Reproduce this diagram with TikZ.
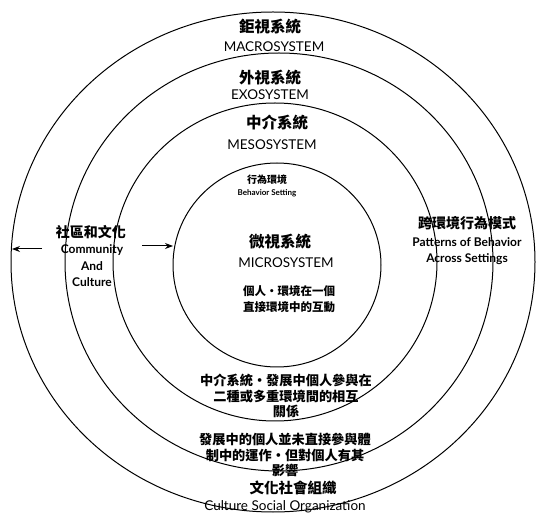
\documentclass[tikz,border=0pt]{standalone}
\usepackage{fontspec}
\setmainfont{Lato}
\newfontfamily\cjk{Noto Sans CJK TC}
\usetikzlibrary{arrows.meta}
\begin{document}
\begin{tikzpicture}[x=1pt,y=-1pt,
  ring/.style={draw=black,line width=1pt},
  cjktitle/.style={font=\cjk\bfseries\fontsize{15.5}{17}\selectfont,inner sep=0pt},
  entitle/.style={font=\fontsize{13.5}{15}\selectfont,inner sep=0pt},
  cjkbody/.style={font=\cjk\bfseries\fontsize{11.5}{15.5}\selectfont,inner sep=0pt,align=center},
  cjkwide/.style={font=\cjk\bfseries\fontsize{13.2}{15.5}\selectfont,inner sep=0pt,align=center},
  cjksmall/.style={font=\cjk\bfseries\fontsize{10}{12}\selectfont,inner sep=0pt},
  ensmall/.style={font=\bfseries\fontsize{8}{10}\selectfont,inner sep=0pt},
  enside/.style={font=\bfseries\fontsize{12}{16.5}\selectfont,inner sep=0pt,align=center},
  cjkside/.style={font=\cjk\bfseries\fontsize{14}{16}\selectfont,inner sep=0pt},
  arr/.style={-{Stealth[length=8pt,width=6pt]},line width=1pt}]
\useasboundingbox (0,0) rectangle (536,521);
\fill[white] (0,0) rectangle (536,521);
% rings
\draw[ring] (273,262) ellipse [x radius=262, y radius=250];
\draw[ring] (279,262) ellipse [x radius=214, y radius=209];
\draw[ring] (275,262) ellipse [x radius=162, y radius=159];
\draw[ring] (277,265) ellipse [x radius=104, y radius=102];
% macro
\node[cjktitle] (macroC) at (270,27) {鉅視系統};
\node[entitle] (macroE) at (274,47) {MACROSYSTEM};
% exo
\node[cjktitle] (exoC) at (270,78) {外視系統};
\node[entitle] (exoE) at (270,95) {EXOSYSTEM};
% meso
\node[cjktitle] (mesoC) at (277,123) {中介系統};
\node[entitle] (mesoE) at (272,145) {MESOSYSTEM};
% behavior setting
\node[cjksmall] (bsC) at (267,180) {行為環境};
\node[ensmall] (bsE) at (267,193) {Behavior Setting};
% micro
\node[cjktitle] (microC) at (280,242) {微視系統};
\node[entitle] (microE) at (286,263) {MICROSYSTEM};
\node[cjkbody] (microD) at (289,299) {個人・環境在一個\\直接環境中的互動};
% meso description
\node[cjkwide] (mesoD) at (286,396) {中介系統・發展中個人參與在\\二種或多重環境間的相互\\關係};
% exo description
\node[cjkwide] (exoD) at (285,455) {發展中的個人並未直接參與體\\制中的運作・但對個人有其\\影響};
% macro description
\node[cjkside,font=\cjk\bfseries\fontsize{14.5}{16}\selectfont] (macroD) at (293,488) {文化社會組織};
\node[entitle] (macroDE) at (285,507) {Culture Social Organization};
% left side
\node[cjkside] (commC) at (91,232) {社區和文化};
\node[enside] (commE) at (92,266) {Community\\And\\Culture};
\coordinate (leftTip) at (12,249);
\coordinate (leftTail) at (42,249);
\coordinate (rightTail) at (142,246);
\coordinate (rightTip) at (173,246);
\draw[arr] (leftTail) -- (leftTip);
\draw[arr] (rightTail) -- (rightTip);
% right side
\node[cjkside] (pattC) at (467,223) {跨環境行為模式};
\node[enside] (pattE) at (467,251) {Patterns of Behavior\\Across Settings};
\end{tikzpicture}
\end{document}
